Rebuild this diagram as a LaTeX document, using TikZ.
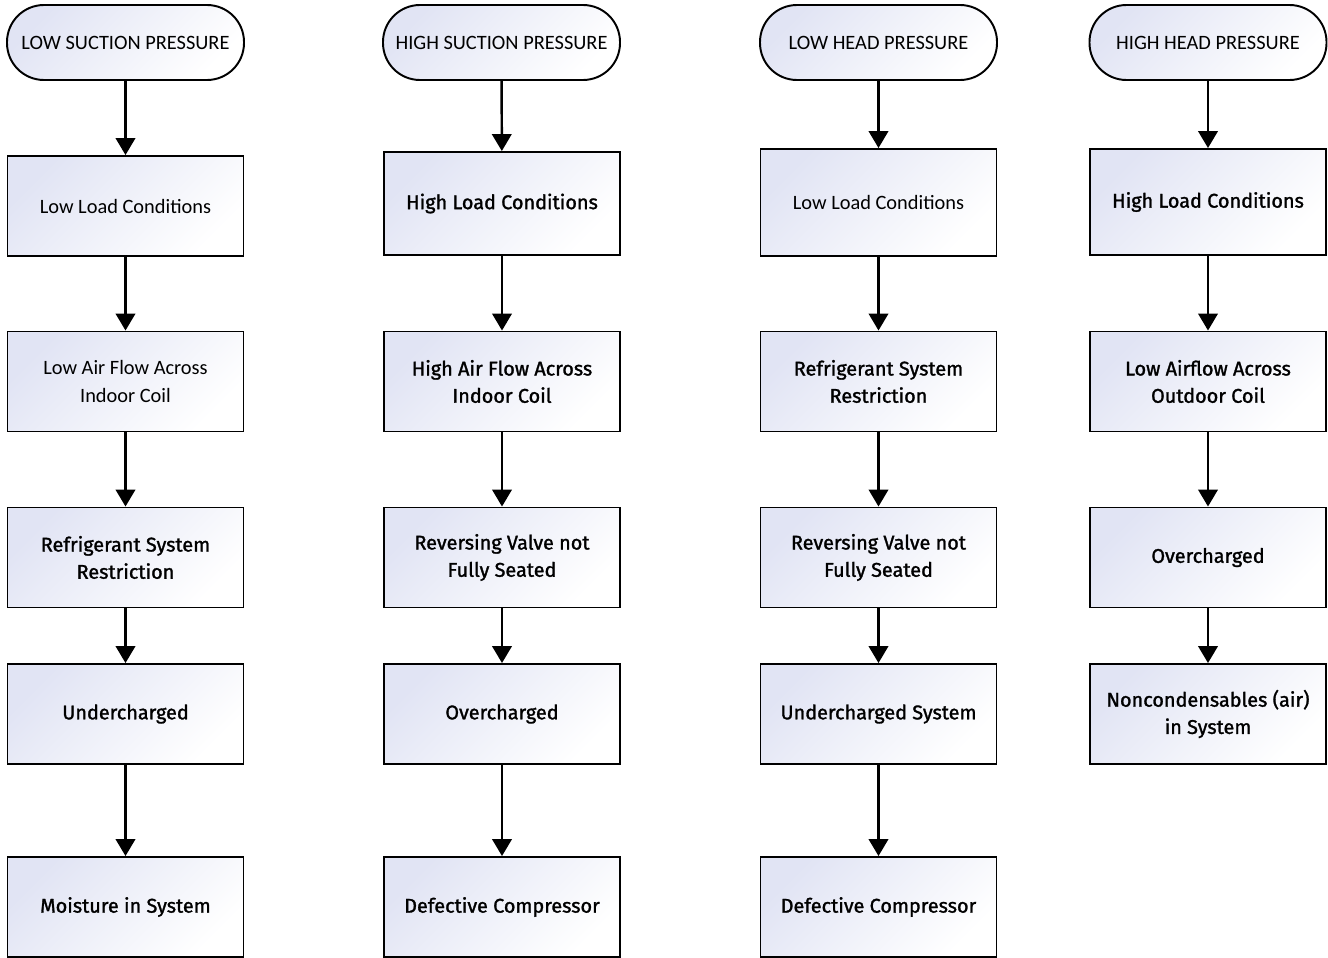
\documentclass[tikz,border=0pt]{standalone}
\usepackage{fontspec}
\setmainfont{Carlito}
\newfontfamily\dinfont[FakeBold=1.4]{Fira Sans}
\usepackage{tikz}
\usetikzlibrary{arrows.meta}
\definecolor{lavender}{HTML}{E1E4F4}

\begin{document}
\begin{tikzpicture}[
    x=0.02cm, y=-0.02cm,
    font=\fontsize{11.6}{15.5}\selectfont,
    shaded/.style={
        draw,
        line width=1.1pt,
        left color=lavender,
        middle color=white,
        right color=white,
        shading angle=45,
        align=center,
        inner sep=4pt
    },
    term/.style ={shaded, rectangle, rounded corners=37*0.02cm, minimum width=237*0.02cm, minimum height=75*0.02cm},
    cause/.style={shaded, rectangle, minimum width=236*0.02cm, minimum height=100*0.02cm},
    thin/.style ={cause},
    bold/.style ={cause, font=\dinfont\fontsize{11.3}{15.5}\selectfont},
    arr/.style={-{Triangle[length=3.4mm, width=3.9mm]}, line width=1.4pt}
]
\useasboundingbox (0,0) rectangle (1328,957);
\clip (0,0) rectangle (1328,957);

% low suction pressure
\node[term] (ls) at (125.5,42.5) {LOW SUCTION PRESSURE};
\node[thin] (ls1) at (125.5,206) {Low Load Conditions};
\node[thin] (ls2) at (125.5,381.5) {Low Air Flow Across\\Indoor Coil};
\node[bold] (ls3) at (125.5,557.5) {Refrigerant System\\Restriction};
\node[bold] (ls4) at (125.5,714) {Undercharged};
\node[bold] (ls5) at (125.5,907) {Moisture in System};

% high suction pressure
\node[term] (hs) at (501.5,42.5) {HIGH SUCTION PRESSURE};
\node[bold, minimum height=103*0.02cm] (hs1) at (502,203.5) {High Load Conditions};
\node[bold] (hs2) at (502,381.5) {High Air Flow Across\\Indoor Coil};
\node[bold] (hs3) at (502,557.5) {Reversing Valve not\\Fully Seated};
\node[bold] (hs4) at (502,714) {Overcharged};
\node[bold] (hs5) at (502,907) {Defective Compressor};

% low head pressure
\node[term] (lh) at (878.5,42.5) {LOW HEAD PRESSURE};
\node[thin, minimum height=107*0.02cm] (lh1) at (878.5,202.5) {Low Load Conditions};
\node[bold] (lh2) at (878.5,381.5) {Refrigerant System\\Restriction};
\node[bold] (lh3) at (878.5,557.5) {Reversing Valve not\\Fully Seated};
\node[bold] (lh4) at (878.5,714) {Undercharged System};
\node[bold] (lh5) at (878.5,907) {Defective Compressor};

% high head pressure
\node[term] (hh) at (1208,42.5) {HIGH HEAD PRESSURE};
\node[bold, minimum height=106*0.02cm] (hh1) at (1208,202) {High Load Conditions};
\node[bold] (hh2) at (1208,381.5) {Low Airflow Across\\Outdoor Coil};
\node[bold] (hh3) at (1208,557.5) {Overcharged};
\node[bold] (hh4) at (1208,714) {Noncondensables (air)\\in System};

\draw[arr] (ls)  -- (ls1);
\draw[arr] (ls1) -- (ls2);
\draw[arr] (ls2) -- (ls3);
\draw[arr] (ls3) -- (ls4);
\draw[arr] (ls4) -- (ls5);

\draw[arr] (hs)  -- (hs1);
\draw[arr] (hs1) -- (hs2);
\draw[arr] (hs2) -- (hs3);
\draw[arr] (hs3) -- (hs4);
\draw[arr] (hs4) -- (hs5);

\draw[arr] (lh)  -- (lh1);
\draw[arr] (lh1) -- (lh2);
\draw[arr] (lh2) -- (lh3);
\draw[arr] (lh3) -- (lh4);
\draw[arr] (lh4) -- (lh5);

\draw[arr] (hh)  -- (hh1);
\draw[arr] (hh1) -- (hh2);
\draw[arr] (hh2) -- (hh3);
\draw[arr] (hh3) -- (hh4);
\end{tikzpicture}
\end{document}
